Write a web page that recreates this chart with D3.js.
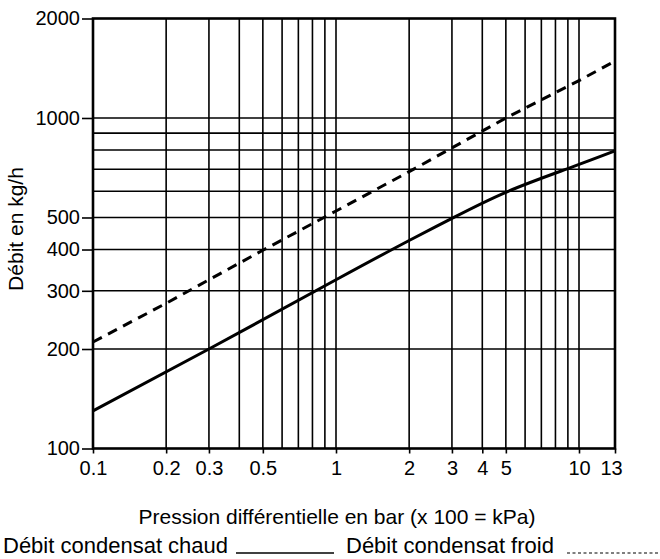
<!DOCTYPE html>
<html>
<head>
<meta charset="utf-8">
<script src="https://cdn.jsdelivr.net/npm/d3@7"></script>
<style>
  html, body { margin: 0; padding: 0; background: #fff; }
  svg { display: block; font-family: "Liberation Sans", Arial, Helvetica, sans-serif; }
</style>
</head>
<body>
<svg id="chart" width="660" height="559"></svg>
<script>
// ---- data ----
const xTicks = [0.1, 0.2, 0.3, 0.5, 1, 2, 3, 4, 5, 10, 13];
const xGrid = [0.2, 0.3, 0.4, 0.5, 0.6, 0.7, 0.8, 0.9, 1, 2, 3, 4, 5, 6, 7, 8, 9, 10];
const yTicks = [100, 200, 300, 400, 500, 1000, 2000];
const yGrid = [200, 300, 400, 500, 600, 700, 800, 900, 1000];

const pressureHot = [0.1, 0.3, 1, 2, 3, 5, 9, 13];
const flowHot     = [130, 200, 324, 426, 497, 596, 703, 795];

const pressureCold = [0.1, 0.2, 0.3, 0.5, 1, 2, 3, 5, 10, 13];
const flowCold     = [210, 275, 324, 398, 523, 688, 812, 1000, 1298, 1486];

const xTitle = "Pression différentielle en bar (x 100 = kPa)";
const yTitle = "Débit en kg/h";
const legendHot = "Débit condensat chaud";
const legendCold = "Débit condensat froid";

// ---- layout ----
const plotLeft = 93, plotRight = 615, plotTop = 18.5, plotBottom = 448.5;
const decade = 243; // width of one decade on the x axis in the original figure

const svg = d3.select("#chart");

// The original figure's last segment (10 -> 13) is drawn a bit wider than a true log decade,
// so a piecewise log scale is used.
const x = d3.scaleLog().domain([0.1, 10, 13]).range([plotLeft, plotLeft + 2 * decade, plotRight]);
const y = d3.scaleLog().domain([100, 2000]).range([plotBottom, plotTop]);

// grid
svg.append("g").selectAll("line").data(xGrid).join("line")
  .attr("x1", d => x(d)).attr("x2", d => x(d))
  .attr("y1", plotTop).attr("y2", plotBottom)
  .attr("stroke", "#000").attr("stroke-width", 1.6);
svg.append("g").selectAll("line").data(yGrid).join("line")
  .attr("x1", plotLeft).attr("x2", plotRight)
  .attr("y1", d => y(d)).attr("y2", d => y(d))
  .attr("stroke", "#000").attr("stroke-width", 1.6);

// frame
svg.append("rect")
  .attr("x", plotLeft).attr("y", plotTop)
  .attr("width", plotRight - plotLeft).attr("height", plotBottom - plotTop)
  .attr("fill", "none").attr("stroke", "#000").attr("stroke-width", 2.6);

// axes
const fmt = d3.format("~g");
const xAxis = svg.append("g").attr("transform", `translate(0,${plotBottom})`)
  .call(d3.axisBottom(x).tickValues(xTicks).tickFormat(fmt).tickSize(5).tickPadding(7).tickSizeOuter(0));
const yAxis = svg.append("g").attr("transform", `translate(${plotLeft},0)`)
  .call(d3.axisLeft(y).tickValues(yTicks).tickFormat(fmt).tickSize(11).tickPadding(2).tickSizeOuter(0));
[xAxis, yAxis].forEach(g => {
  g.select(".domain").remove();
  g.selectAll(".tick line").attr("stroke", "#000").attr("stroke-width", 1.6);
  g.selectAll(".tick text").attr("fill", "#000").attr("font-size", 20)
    .attr("font-family", "'Liberation Sans', Arial, sans-serif");
});
xAxis.selectAll(".tick text").filter(d => d === 13).attr("dx", -4);

// curves
const hot = pressureHot.map((p, i) => [p, flowHot[i]]);
const cold = pressureCold.map((p, i) => [p, flowCold[i]]);

svg.append("path").datum(hot)
  .attr("d", d3.line().x(d => x(d[0])).y(d => y(d[1])).curve(d3.curveNatural))
  .attr("fill", "none").attr("stroke", "#000").attr("stroke-width", 3);
svg.append("path").datum(cold)
  .attr("d", d3.line().x(d => x(d[0])).y(d => y(d[1])))
  .attr("fill", "none").attr("stroke", "#000").attr("stroke-width", 3)
  .attr("stroke-dasharray", "10,7");

// titles
svg.append("text")
  .attr("x", 337).attr("y", 524)
  .attr("text-anchor", "middle").attr("font-size", 21).attr("fill", "#000")
  .text(xTitle);
svg.append("text")
  .attr("transform", "translate(23,229) rotate(-90)")
  .attr("text-anchor", "middle").attr("font-size", 21).attr("fill", "#000")
  .text(yTitle);

// legend
const ly = 553;
svg.append("text").attr("x", 3).attr("y", ly).attr("font-size", 22).attr("fill", "#000").text(legendHot);
svg.append("line").attr("x1", 236).attr("x2", 334).attr("y1", ly).attr("y2", ly)
  .attr("stroke", "#000").attr("stroke-width", 1.3);
svg.append("text").attr("x", 346).attr("y", ly).attr("font-size", 22).attr("fill", "#000").text(legendCold);
svg.append("line").attr("x1", 567).attr("x2", 658).attr("y1", ly).attr("y2", ly)
  .attr("stroke", "#000").attr("stroke-width", 1.2).attr("stroke-dasharray", "3,2.5");
</script>
</body>
</html>
